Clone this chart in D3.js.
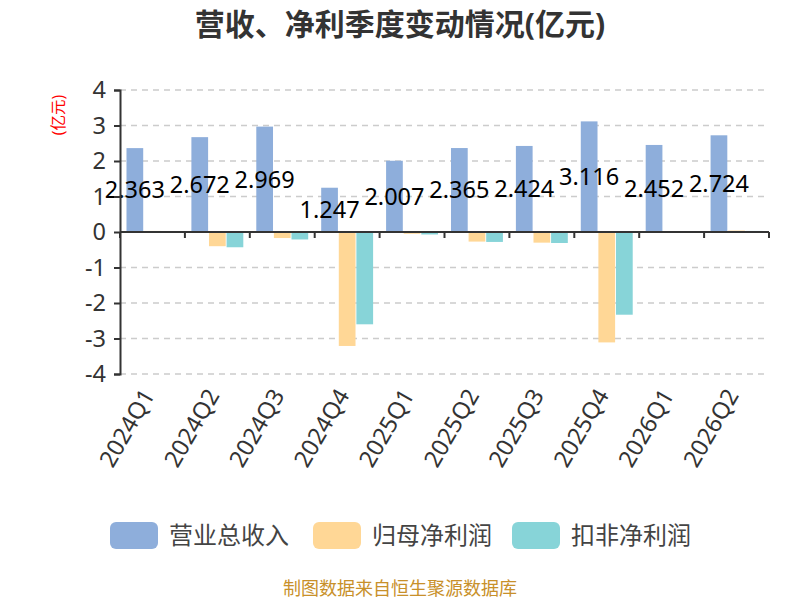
<!DOCTYPE html>
<html>
<head>
<meta charset="utf-8">
<script src="https://cdn.jsdelivr.net/npm/d3@7/dist/d3.min.js"></script>
<style>
  body { margin: 0; background: #fff; }
  text { font-family: "Noto Sans", "Noto Sans CJK SC", sans-serif; }
</style>
</head>
<body>
<div class="chart"></div>
<script>
// quarters on the x axis
const quarters = ["2024Q1","2024Q2","2024Q3","2024Q4","2025Q1","2025Q2","2025Q3","2025Q4","2026Q1","2026Q2"]
// series values (亿元)
const revenue = [2.363, 2.672, 2.969, 1.247, 2.007, 2.365, 2.424, 3.116, 2.452, 2.724]
const netProfit = [0.03, -0.40, -0.17, -3.21, -0.05, -0.27, -0.30, -3.11, 0.02, 0.04]
const deductedProfit = [0.01, -0.43, -0.21, -2.60, -0.07, -0.28, -0.31, -2.33, -0.02, 0.03]
const seriesNames = ["营业总收入", "归母净利润", "扣非净利润"]
const yTicks = [-4, -3, -2, -1, 0, 1, 2, 3, 4]

const colors = ["#8eaedb", "#ffd796", "#87d4d8"]

const W = 800, H = 600
const margin = {top: 90, right: 31, bottom: 226, left: 120}
const width = W - margin.left - margin.right,
      height = H - margin.top - margin.bottom

const svg = d3.select(".chart")
  .append("svg")
  .attr("width", W)
  .attr("height", H)

// title
svg.append("text")
  .attr("x", W / 2)
  .attr("y", 35)
  .attr("text-anchor", "middle")
  .attr("font-size", "30px")
  .attr("font-weight", "bold")
  .attr("fill", "#333")
  .text("营收、净利季度变动情况(亿元)")

const g = svg.append("g")
  .attr("transform", `translate(${margin.left},${margin.top})`)

const x = d3.scaleBand()
  .domain(quarters)
  .range([0, width])

const y = d3.scaleLinear()
  .domain([-4, 4])
  .range([height, 0])

// grid lines
g.append("g")
  .selectAll("line")
  .data(yTicks.filter(d => d !== 0))
  .join("line")
  .attr("x1", 0)
  .attr("x2", width)
  .attr("y1", d => y(d))
  .attr("y2", d => y(d))
  .attr("stroke", "#cccccc")
  .attr("stroke-width", 1.5)
  .attr("stroke-dasharray", "6,5")

// bars
const inner = d3.scaleBand()
  .domain([0, 1, 2])
  .range([x.bandwidth() * 0.1, x.bandwidth() * 0.9])
  .paddingInner(0.05)

const dataset = quarters.map((q, i) => ({
  q: q,
  values: [revenue[i], netProfit[i], deductedProfit[i]]
}))

const groups = g.append("g")
  .selectAll("g")
  .data(dataset)
  .join("g")
  .attr("transform", d => `translate(${x(d.q)},0)`)

groups.selectAll("rect")
  .data(d => d.values.map((v, k) => ({k: k, v: v})))
  .join("rect")
  .attr("x", d => inner(d.k))
  .attr("width", inner.bandwidth())
  .attr("y", d => Math.min(y(d.v), y(0)))
  .attr("height", d => Math.abs(y(d.v) - y(0)))
  .attr("fill", d => colors[d.k])

// x axis on zero line
const xAxis = g.append("g")
  .attr("transform", `translate(0,${y(0)})`)
xAxis.append("line")
  .attr("x1", 0).attr("x2", width)
  .attr("stroke", "#333").attr("stroke-width", 2)
xAxis.selectAll(".tick")
  .data(d3.range(quarters.length + 1))
  .join("line")
  .attr("x1", i => i * x.step())
  .attr("x2", i => i * x.step())
  .attr("y1", 0).attr("y2", 6)
  .attr("stroke", "#333").attr("stroke-width", 2)

// x labels
g.append("g")
  .selectAll("text")
  .data(quarters)
  .join("text")
  .attr("transform", d => `translate(${x(d) + x.bandwidth() / 2 + 3},${height + 21}) rotate(-60)`)
  .attr("text-anchor", "end")
  .attr("font-size", "23.5px")
  .attr("fill", "#333")
  .text(d => d)

// y axis
const yAxis = g.append("g")
  .call(d3.axisLeft(y).tickValues(yTicks).tickFormat(d => String(d)).tickSize(6).tickPadding(8))
yAxis.select(".domain").attr("stroke", "#333").attr("stroke-width", 2)
yAxis.selectAll(".tick line").attr("stroke", "#333").attr("stroke-width", 2)
yAxis.selectAll(".tick text")
  .attr("font-size", "23.5px")
  .attr("fill", "#333")
  .attr("font-family", "'Noto Sans', sans-serif")

// y axis name
svg.append("text")
  .attr("transform", `translate(64,115) rotate(-90)`)
  .attr("text-anchor", "middle")
  .attr("font-size", "15.5px")
  .attr("fill", "red")
  .text("(亿元)")

// revenue value labels
groups.append("text")
  .attr("x", inner(0) + inner.bandwidth() / 2)
  .attr("y", d => (y(d.values[0]) + y(0)) / 2)
  .attr("dy", "0.35em")
  .attr("text-anchor", "middle")
  .attr("font-size", "23.5px")
  .attr("fill", "#000")
  .text(d => d.values[0])

// legend
const legendX = [110, 313, 512]
const legend = svg.append("g")
  .selectAll("g")
  .data(seriesNames)
  .join("g")
  .attr("transform", (d, i) => `translate(${legendX[i]},522)`)
legend.append("rect")
  .attr("width", 48)
  .attr("height", 27)
  .attr("rx", 6)
  .attr("fill", (d, i) => colors[i])
legend.append("text")
  .attr("x", 59)
  .attr("y", 14)
  .attr("dy", "0.35em")
  .attr("font-size", "24px")
  .attr("fill", "#444")
  .text(d => d)

// footer
svg.append("text")
  .attr("x", W / 2)
  .attr("y", 589)
  .attr("dy", "0.35em")
  .attr("text-anchor", "middle")
  .attr("font-size", "18px")
  .attr("fill", "#c8902a")
  .text("制图数据来自恒生聚源数据库")
</script>
</body>
</html>
